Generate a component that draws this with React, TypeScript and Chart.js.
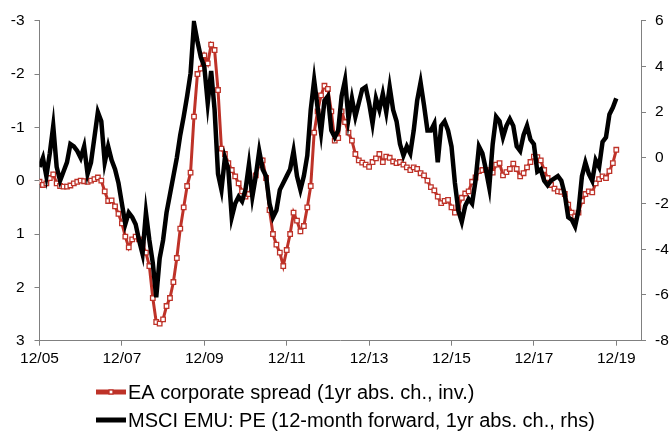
import React, { useEffect, useRef } from "react";
import { Chart, registerables } from "chart.js";

Chart.register(...registerables);

// x = month index counted from Dec 2005 (0 = 12/05, 168 = 12/19)
const xTickLabels = ["12/05", "12/07", "12/09", "12/11", "12/13", "12/15", "12/17", "12/19"];
const leftTicks = [-3, -2, -1, 0, 1, 2, 3];
const rightTicks = [6, 4, 2, 0, -2, -4, -6, -8];

const legendLabels = [
  "EA corporate spread (1yr abs. ch., inv.)",
  "MSCI EMU: PE (12-month forward, 1yr abs. ch., rhs)",
];

// EA corporate spread, 1yr abs. change (left axis, inverted) — monthly
const spreadInv = [
  0.02, 0.08, 0.05, -0.05, -0.12, 0.05, 0.1, 0.11, 0.11, 0.09, 0.05, 0.02,
  0.0, 0.01, 0.02, 0.0, -0.03, -0.06, 0.0, 0.2, 0.38, 0.37, 0.48, 0.62,
  0.8, 1.05, 1.25, 1.1, 1.05, 1.1, 1.2, 1.35, 1.6, 2.2, 2.65, 2.68,
  2.6, 2.35, 2.2, 1.9, 1.45, 0.9, 0.5, 0.1, -0.15, -1.2, -2.0, -2.1,
  -2.35, -2.2, -2.55, -2.45, -1.7, -0.6, -0.5, -0.33, -0.2, -0.08, 0.05, 0.2,
  0.3, 0.25, 0.1, -0.1, -0.3, -0.38, -0.05, 0.55, 1.0, 1.2, 1.35, 1.6,
  1.3, 1.0, 0.6, 0.75, 0.95, 0.85, 0.5, 0.1, -0.9, -1.3, -1.6, -1.78,
  -1.72, -1.3, -0.75, -0.8, -1.3, -1.1, -0.9, -0.75, -0.5, -0.38, -0.34, -0.3,
  -0.26, -0.35, -0.42, -0.5, -0.35, -0.45, -0.43, -0.36, -0.33, -0.35, -0.3, -0.25,
  -0.2, -0.25, -0.22, -0.14, -0.1, 0.0, 0.12, 0.18, 0.3, 0.42, 0.38, 0.36,
  0.5, 0.6, 0.5, 0.32, 0.24, 0.2, 0.02, -0.06, -0.18, -0.2, -0.2, -0.15,
  -0.15, -0.3, -0.33, -0.1, -0.16, -0.22, -0.32, -0.22, -0.08, -0.14, -0.25, -0.35,
  -0.45, -0.44, -0.38, -0.2, -0.05, 0.08, 0.15, 0.2, 0.21, 0.25, 0.45, 0.6,
  0.67, 0.6, 0.38, 0.25, 0.2, 0.22, 0.05, -0.03, -0.08, -0.05, -0.18, -0.33,
  -0.58,
];

// MSCI EMU 12m fwd PE, 1yr abs. change (right axis) — monthly
const msciPe = [
  -0.4, 0.0, -0.8, 0.2, 1.4, -0.4, -1.0, -0.6, -0.2, 0.6, 0.5, 0.3,
  0.0, 0.5, -0.7, -0.2, 0.9, 2.0, 1.6, -0.2, 0.5, -0.1, -0.5, -1.1,
  -2.0, -2.9, -2.4, -2.6, -2.9, -3.6, -4.2, -2.4, -3.6, -4.6, -6.1, -4.4,
  -3.6, -2.4, -1.6, -0.8, 0.0, 1.0, 1.8, 2.7, 3.7, 5.9, 5.1, 4.4,
  4.0, 2.4, 3.8, 2.1, -0.7, -1.4, 0.0, -0.5, -2.6, -2.0, -1.7, -1.9,
  -1.4, -0.3, -1.7, -0.8, 0.3, -0.5, -0.8, -2.0, -2.6, -2.3, -1.4, -1.1,
  -0.8, -0.5, 0.3, -0.8, -1.4, -0.8, 0.1, 2.1, 3.4, 2.2, 1.1, 2.5,
  2.7, 1.2, 0.9, 1.2, 2.7, 3.4, 1.7, 2.6, 1.8, 2.4, 3.0, 3.1,
  2.4, 1.5, 2.6, 2.1, 2.8, 2.0, 3.1, 2.1, 1.6, 0.6, 0.1, 0.5,
  0.2, 1.2, 2.5, 3.3, 2.3, 1.2, 1.2, 1.5, -0.2, 1.4, 1.6, 1.2,
  0.5, -1.1, -2.3, -2.8, -2.1, -1.8, -2.0, -1.0, 0.5, 0.2, -0.5, -1.3,
  0.6, 1.8, 1.6, 0.9, 1.4, 1.7, 1.4, 0.5, 0.3, 1.0, 1.4, 0.8,
  0.6, -0.6, -0.5, -1.0, -1.2, -1.0, -0.9, -0.8, -1.0, -1.6, -2.6, -2.7,
  -3.0, -2.3, -0.8, -0.2, -0.7, -1.0, -0.1, -0.4, 0.7, 0.9, 1.9, 2.2,
  2.6,
];

const RED = "#BE3228";
const AXIS = "#808080";
const FONT = '"Liberation Sans", Arial, sans-serif';

const legendPlugin = {
  id: "customLegend",
  afterDraw(chart: any) {
    const ctx = chart.ctx;
    ctx.save();
    ctx.font = `20px ${FONT}`;
    ctx.textBaseline = "middle";
    ctx.textAlign = "left";
    const rows = [
      { y: 392, color: RED, marker: true },
      { y: 420, color: "#000", marker: false },
    ];
    rows.forEach((r, i) => {
      ctx.strokeStyle = r.color;
      ctx.lineWidth = 5;
      ctx.beginPath();
      ctx.moveTo(96, r.y);
      ctx.lineTo(126, r.y);
      ctx.stroke();
      if (r.marker) {
        ctx.fillStyle = "#fff";
        ctx.strokeStyle = r.color;
        ctx.lineWidth = 1.3;
        ctx.fillRect(109, r.y - 2, 4, 4);
        ctx.strokeRect(109, r.y - 2, 4, 4);
      }
      ctx.fillStyle = "#000";
      ctx.fillText(legendLabels[i], 128, r.y + 1);
    });
    ctx.restore();
  },
};

export default function App() {
  const ref = useRef<HTMLCanvasElement | null>(null);
  useEffect(() => {
    if (!ref.current) return;
    const tickFont = { family: FONT, size: 15.5 };
    const chart = new Chart(ref.current, {
      type: "line",
      data: {
        datasets: [
          {
            label: legendLabels[0],
            data: spreadInv.map((v, i) => ({ x: i, y: v })),
            yAxisID: "yL",
            borderColor: RED,
            borderWidth: 3,
            pointStyle: "rect",
            pointRadius: 3.2,
            pointBorderWidth: 1.3,
            pointBackgroundColor: "#fff",
            pointBorderColor: RED,
            tension: 0,
            order: 1,
          },
          {
            label: legendLabels[1],
            data: msciPe.map((v, i) => ({ x: i, y: v })),
            yAxisID: "yR",
            borderColor: "#000",
            borderWidth: 4.5,
            pointRadius: 0,
            tension: 0,
            order: 0,
          },
        ],
      },
      options: {
        responsive: false,
        animation: false,
        events: [],
        layout: { padding: { top: 20.7, left: 0, right: 0, bottom: 0 } },
        plugins: { legend: { display: false }, tooltip: { enabled: false } },
        scales: {
          x: {
            type: "linear",
            position: "bottom",
            min: 0,
            max: 175.2,
            afterBuildTicks: (s: any) => {
              s.ticks = xTickLabels.map((_, i) => ({ value: i * 24 }));
            },
            afterFit: (s: any) => {
              s.height = 435 - 340.7;
            },
            ticks: {
              autoSkip: false,
              maxRotation: 0,
              padding: 4,
              color: "#000",
              font: tickFont,
              callback: (v: any) => xTickLabels[Math.round(Number(v) / 24)] ?? "",
            },
            grid: { drawOnChartArea: false, drawTicks: true, tickLength: 5, color: AXIS },
            border: { display: true, color: AXIS, width: 1 },
          },
          yL: {
            type: "linear",
            position: "left",
            reverse: true,
            min: -3,
            max: 3,
            afterBuildTicks: (s: any) => {
              s.ticks = leftTicks.map((v) => ({ value: v }));
            },
            afterFit: (s: any) => {
              s.width = 39.5;
            },
            ticks: { padding: 10, color: "#000", font: tickFont },
            grid: { drawOnChartArea: false, drawTicks: true, tickLength: 5, color: AXIS },
            border: { display: true, color: AXIS, width: 1 },
          },
          yR: {
            type: "linear",
            position: "right",
            min: -8,
            max: 6,
            afterBuildTicks: (s: any) => {
              s.ticks = rightTicks.map((v) => ({ value: v }));
            },
            afterFit: (s: any) => {
              s.width = 670 - 641;
            },
            ticks: { padding: 9, color: "#000", font: tickFont },
            grid: { drawOnChartArea: false, drawTicks: true, tickLength: 5, color: AXIS },
            border: { display: true, color: AXIS, width: 1 },
          },
        },
      },
      plugins: [legendPlugin],
    });
    return () => chart.destroy();
  }, []);
  return (
    <div style={{ position: "fixed", left: 0, top: 0, width: 670, height: 435, background: "#fff" }}>
      <canvas ref={ref} width={670} height={435} style={{ width: 670, height: 435, display: "block" }} />
    </div>
  );
}
